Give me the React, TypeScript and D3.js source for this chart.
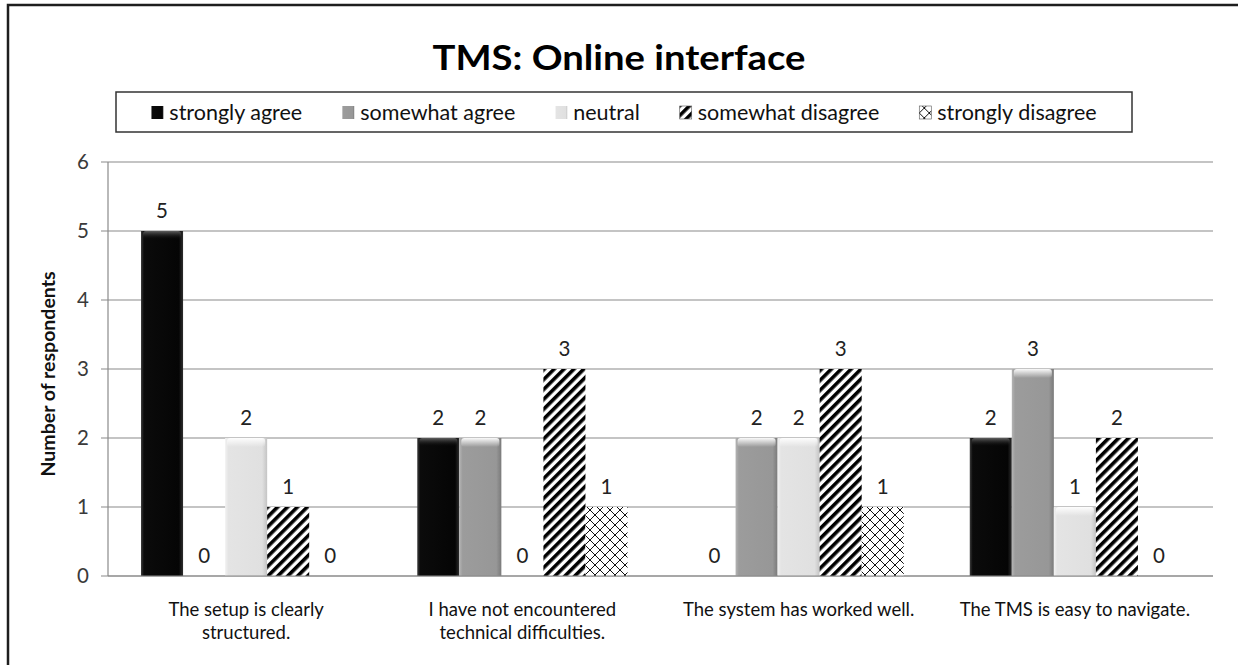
import React, { useEffect, useRef } from "react";
import * as d3 from "d3";

const categories = [
  "The setup is clearly structured.",
  "I have not encountered technical difficulties.",
  "The system has worked well.",
  "The TMS is easy to navigate.",
];
const seriesNames = [
  "strongly agree",
  "somewhat agree",
  "neutral",
  "somewhat disagree",
  "strongly disagree",
];
const stronglyAgree = [5, 2, 0, 2];
const somewhatAgree = [0, 2, 2, 3];
const neutral = [2, 0, 2, 1];
const somewhatDisagree = [1, 3, 3, 2];
const stronglyDisagree = [0, 1, 1, 0];
const yTicks = [0, 1, 2, 3, 4, 5, 6];

const seriesValues = [stronglyAgree, somewhatAgree, neutral, somewhatDisagree, stronglyDisagree];
const fills = ["url(#gBlack)", "url(#gMid)", "url(#gLight)", "url(#pStripe)", "url(#pCross)"];
const bevel = ["url(#bvDark)", "url(#bvLight)", "url(#bvLight)", null, null];

const FONT = "Lato, 'Open Sans', sans-serif";

export default function App() {
  const ref = useRef<SVGSVGElement | null>(null);

  useEffect(() => {
    const svg = d3.select(ref.current);
    svg.selectAll("*").remove();
    const W = 1238, H = 665;
    const defs = svg.append("defs");

    const hGrad = (id: string, stops: [number, string][]) => {
      const g = defs.append("linearGradient").attr("id", id).attr("x1", "0").attr("x2", "1").attr("y1", "0").attr("y2", "0");
      stops.forEach(([o, c]) => g.append("stop").attr("offset", o).attr("stop-color", c));
    };
    hGrad("gBlack", [[0, "#3c3c3c"], [0.07, "#0b0b0b"], [0.9, "#050505"], [1, "#2e2e2e"]]);
    hGrad("gMid", [[0, "#b4b4b4"], [0.08, "#9c9c9c"], [0.88, "#979797"], [1, "#7a7a7a"]]);
    hGrad("gLight", [[0, "#f2f2f2"], [0.08, "#e4e4e4"], [0.88, "#e0e0e0"], [1, "#c4c4c4"]]);
    const vGrad = (id: string, stops: [number, string, number][]) => {
      const g = defs.append("linearGradient").attr("id", id).attr("x1", "0").attr("x2", "0").attr("y1", "0").attr("y2", "1");
      stops.forEach(([o, c, op]) => g.append("stop").attr("offset", o).attr("stop-color", c).attr("stop-opacity", op));
    };
    vGrad("bvDark", [[0, "#6a6a6a", 0.9], [1, "#000", 0]]);
    vGrad("bvLight", [[0, "#ffffff", 0.95], [1, "#ffffff", 0]]);

    const ps = defs.append("pattern").attr("id", "pStripe").attr("patternUnits", "userSpaceOnUse")
      .attr("width", 7).attr("height", 7).attr("patternTransform", "rotate(45)");
    ps.append("rect").attr("width", 7).attr("height", 7).attr("fill", "#fff");
    ps.append("rect").attr("width", 3.6).attr("height", 7).attr("fill", "#000");

    const pc = defs.append("pattern").attr("id", "pCross").attr("patternUnits", "userSpaceOnUse")
      .attr("width", 10).attr("height", 10);
    pc.append("rect").attr("width", 10).attr("height", 10).attr("fill", "#fff");
    pc.append("path").attr("d", "M0,0L10,10M10,0L0,10").attr("stroke", "#111").attr("stroke-width", 1).attr("fill", "none");

    // frame
    svg.append("rect").attr("x", 0).attr("y", 0).attr("width", W).attr("height", H).attr("fill", "#fff");
    svg.append("rect").attr("x", 8).attr("y", 5).attr("width", 1250).attr("height", 700)
      .attr("fill", "#fff").attr("stroke", "#1e1e1e").attr("stroke-width", 2.5);

    // title
    svg.append("text").attr("x", 619).attr("y", 70).attr("text-anchor", "middle")
      .attr("font-family", FONT).attr("font-weight", 700).attr("font-size", 35).attr("fill", "#000")
      .attr("textLength", 373).attr("lengthAdjust", "spacingAndGlyphs")
      .text("TMS: Online interface");

    const x0 = 108, x1 = 1213;
    const y = d3.scaleLinear().domain([0, 6]).range([576, 162]);
    const xb = d3.scaleBand<string>().domain(categories).range([x0, x1]).paddingInner(0.239).paddingOuter(0.1195);
    const xs = d3.scaleBand<string>().domain(seriesNames).range([0, xb.bandwidth()]);

    // grid
    const grid = svg.append("g");
    yTicks.forEach((t) => {
      grid.append("line").attr("x1", x0 - 7).attr("x2", x1).attr("y1", y(t)).attr("y2", y(t))
        .attr("stroke", "#8a8a8a").attr("stroke-width", 1.2);
      grid.append("text").attr("x", 89).attr("y", y(t) + 7).attr("text-anchor", "end")
        .attr("font-family", FONT).attr("font-size", 20.5).attr("fill", "#3a3a3a").text(String(t));
    });
    grid.append("line").attr("x1", x0).attr("x2", x0).attr("y1", y(6)).attr("y2", y(0))
      .attr("stroke", "#8a8a8a").attr("stroke-width", 1.2);

    // y title
    svg.append("text").attr("transform", `translate(55,${(y(0) + y(6)) / 2 + 5}) rotate(-90)`)
      .attr("text-anchor", "middle").attr("font-family", FONT).attr("font-weight", 700)
      .attr("font-size", 19.5).attr("fill", "#111").text("Number of respondents");

    // bars
    const bars = svg.append("g");
    categories.forEach((c, ci) => {
      seriesNames.forEach((s, si) => {
        const v = seriesValues[si][ci];
        const bx = (xb(c) as number) + (xs(s) as number);
        const bw = xs.bandwidth();
        if (v > 0) {
          bars.append("rect").attr("x", bx).attr("y", y(v)).attr("width", bw).attr("height", y(0) - y(v))
            .attr("fill", fills[si]);
          if (bevel[si]) {
            bars.append("rect").attr("x", bx + 2).attr("y", y(v)).attr("width", bw - 4).attr("height", 9)
              .attr("rx", 3).attr("fill", bevel[si] as string);
          }
        }
        bars.append("text").attr("x", bx + bw / 2).attr("y", y(v) - 13).attr("text-anchor", "middle")
          .attr("font-family", FONT).attr("font-size", 20.5).attr("fill", "#222").text(String(v));
      });
    });
    svg.append("line").attr("x1", x0).attr("x2", x1).attr("y1", y(0)).attr("y2", y(0))
      .attr("stroke", "#8a8a8a").attr("stroke-width", 1.2);

    // category labels with wrapping
    const maxW = 238;
    const LF = 18.5;
    categories.forEach((c) => {
      const cx = (xb(c) as number) + xb.bandwidth() / 2;
      const t = svg.append("text").attr("text-anchor", "middle").attr("font-family", FONT)
        .attr("font-size", LF).attr("fill", "#111");
      const words = c.split(" ");
      const lines: string[] = [];
      let cur = "";
      const probe = svg.append("text").attr("font-family", FONT).attr("font-size", LF);
      words.forEach((w) => {
        const test = cur ? cur + " " + w : w;
        probe.text(test);
        if ((probe.node() as SVGTextElement).getComputedTextLength() > maxW && cur) {
          lines.push(cur);
          cur = w;
        } else cur = test;
      });
      lines.push(cur);
      probe.remove();
      lines.forEach((l, i) => {
        t.append("tspan").attr("x", cx).attr("y", 616 + i * 22.5).text(l);
      });
    });

    // legend
    svg.append("rect").attr("x", 116).attr("y", 92).attr("width", 1016).attr("height", 40)
      .attr("fill", "#fff").attr("stroke", "#333").attr("stroke-width", 1.5);
    const lg = svg.append("g");
    const items: { g: any; w: number }[] = [];
    seriesNames.forEach((s, si) => {
      const g = lg.append("g");
      g.append("rect").attr("x", 0).attr("y", -7).attr("width", 12).attr("height", 13)
        .attr("fill", fills[si]).attr("stroke", si >= 3 ? "#555" : "none").attr("stroke-width", 0.6);
      const tx = g.append("text").attr("x", 18).attr("y", 7).attr("font-family", FONT)
        .attr("font-size", 21.5).attr("fill", "#111").text(s);
      const w = 18 + (tx.node() as SVGTextElement).getComputedTextLength();
      items.push({ g, w });
    });
    const gap = 40;
    const total = d3.sum(items, (d) => d.w) + gap * (items.length - 1);
    let lx = 116 + (1016 - total) / 2;
    items.forEach((it) => {
      it.g.attr("transform", `translate(${lx},113)`);
      lx += it.w + gap;
    });
  }, []);

  return (
    <svg ref={ref} width={1238} height={665} style={{ position: "absolute", left: 0, top: 0, background: "#fff" }} />
  );
}
